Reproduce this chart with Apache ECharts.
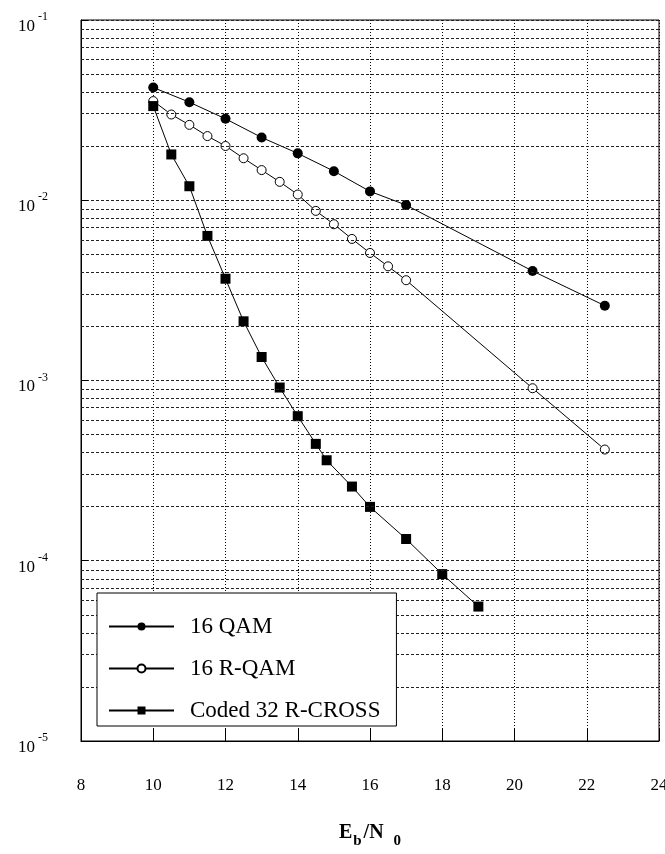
<!DOCTYPE html>
<html>
<head>
<meta charset="utf-8">
<script src="https://cdn.jsdelivr.net/npm/echarts@6/dist/echarts.min.js"></script>
<style>
html,body{margin:0;padding:0;background:#fff;overflow:hidden;}
#chart{width:665px;height:854px;}
</style>
</head>
<body>
<div id="chart"></div>
<script>
// ---- data ----
const seriesNames = ['16 QAM', '16 R-QAM', 'Coded 32 R-CROSS'];

const xQAM = [10, 11, 12, 13, 14, 15, 16, 17, 20.5, 22.5];
const yQAM = [0.0422, 0.0350, 0.0283, 0.0223, 0.0182, 0.0145, 0.0112, 0.0094, 0.00405, 0.0026];

const xRQAM = [10, 10.5, 11, 11.5, 12, 12.5, 13, 13.5, 14, 14.5, 15, 15.5, 16, 16.5, 17, 20.5, 22.5];
const yRQAM = [0.0355, 0.0299, 0.0262, 0.0227, 0.0200, 0.0171, 0.0147, 0.01265, 0.01076, 0.00873, 0.00736, 0.0061, 0.0051, 0.0043, 0.0036, 0.000906, 0.000414];

const xCross = [10, 10.5, 11, 11.5, 12, 12.5, 13, 13.5, 14, 14.5, 14.8, 15.5, 16, 17, 18, 19];
const yCross = [0.0333, 0.01795, 0.01196, 0.00634, 0.00367, 0.00213, 0.00135, 0.000914, 0.000634, 0.000445, 0.000361, 0.000258, 0.000199, 0.000132, 0.0000843, 0.0000557];

// axis ticks
const xTicks = [8, 10, 12, 14, 16, 18, 20, 22, 24];
const yDecades = [1e-5, 1e-4, 1e-3, 1e-2, 1e-1];
const minorMultipliers = [2, 3, 4, 5, 6, 7, 8, 9];

// ---- build ----
const pairs = (xs, ys) => xs.map((x, i) => [x, ys[i]]);
// minor grid lines, expressed as exponents on a hidden linear helper axis that spans the same decades
const minorLines = [];
for (let d = 0; d < yDecades.length - 1; d++) {
  minorMultipliers.forEach(m => minorLines.push({ yAxis: Math.log10(yDecades[d] * m) }));
}

const FONT = "'Liberation Serif', 'Times New Roman', serif";
const chart = echarts.init(document.getElementById('chart'), null, { renderer: 'canvas', width: 665, height: 854 });

const option = {
  animation: false,
  backgroundColor: '#ffffff',
  grid: {
    left: 81, width: 578, top: 20, height: 721,
    containLabel: false,
    outerBoundsMode: 'none',
    show: true, borderColor: '#000', borderWidth: 1, backgroundColor: 'transparent'
  },
  xAxis: {
    type: 'value',
    min: xTicks[0], max: xTicks[xTicks.length - 1], interval: 2,
    axisLine: { show: true, lineStyle: { color: '#000', width: 1 } },
    axisTick: { show: true, inside: true, length: 13, lineStyle: { color: '#000' } },
    axisLabel: { margin: 36, color: '#000', fontFamily: FONT, fontSize: 17 },
    splitLine: { show: true, lineStyle: { color: '#000', type: [1, 2], width: 1 } },
    name: '{m|E}{sb|b}{m|/N}{s0|0}',
    nameLocation: 'middle',
    nameGap: 82,
    nameTextStyle: {
      rich: {
        m: { fontFamily: FONT, fontWeight: 'bold', fontSize: 20, color: '#000', verticalAlign: 'top', lineHeight: 26 },
        sb: { fontFamily: FONT, fontWeight: 'bold', fontSize: 15, color: '#000', verticalAlign: 'bottom', lineHeight: 26, padding: [0, 2, 0, 1] },
        s0: { fontFamily: FONT, fontWeight: 'bold', fontSize: 15, color: '#000', verticalAlign: 'bottom', lineHeight: 26, padding: [0, 0, 0, 10] }
      }
    }
  },
  yAxis: [
    {
      type: 'log', logBase: 10,
      min: yDecades[0], max: yDecades[yDecades.length - 1],
      axisLine: { show: true, lineStyle: { color: '#000', width: 1 } },
      axisTick: { show: true, inside: true, length: 7, lineStyle: { color: '#000' } },
      axisLabel: {
        margin: 33,
        color: '#000',
        formatter: v => '{b|10}{s|' + Math.round(Math.log10(v)) + '}',
        rich: {
          b: { fontFamily: FONT, fontSize: 17, color: '#000', verticalAlign: 'bottom', lineHeight: 30 },
          s: { fontFamily: FONT, fontSize: 12, color: '#000', verticalAlign: 'top', lineHeight: 30, padding: [6, 0, 0, 3] }
        }
      },
      splitLine: { show: true, lineStyle: { color: '#222', type: [3, 2], width: 1 } }
    },
    {
      // hidden helper axis in exponent units (same span as the log axis), used only for minor grid lines
      type: 'value', show: false,
      min: Math.log10(yDecades[0]), max: Math.log10(yDecades[yDecades.length - 1]),
      splitLine: { show: false }, axisLabel: { show: false }, axisTick: { show: false }, axisLine: { show: false }
    }
  ],
  legend: {
    orient: 'vertical',
    left: 97, top: 593,
    backgroundColor: '#fff',
    borderColor: '#000', borderWidth: 1, borderRadius: 0,
    padding: [22, 16, 4, 11],
    itemGap: 19,
    itemWidth: 65, itemHeight: 10,
    textStyle: { fontFamily: FONT, fontSize: 23, color: '#000', padding: [0, 0, 0, 11] },
    data: seriesNames,
    z: 10
  },
  series: [
    {
      name: '_grid', type: 'line', data: [], silent: true, z: 1, yAxisIndex: 1,
      markLine: {
        silent: true, symbol: ['none', 'none'], label: { show: false },
        lineStyle: { color: '#222', type: [3, 2], width: 1 },
        data: minorLines, animation: false
      }
    },
    {
      name: seriesNames[0], type: 'line', data: pairs(xQAM, yQAM), z: 3,
      symbol: 'circle', symbolSize: 10,
      lineStyle: { color: '#000', width: 1 },
      itemStyle: { color: '#000', borderColor: '#000', borderWidth: 0 }
    },
    {
      name: seriesNames[1], type: 'line', data: pairs(xRQAM, yRQAM), z: 3,
      symbol: 'circle', symbolSize: 9,
      lineStyle: { color: '#000', width: 1 },
      itemStyle: { color: '#fff', borderColor: '#000', borderWidth: 1 }
    },
    {
      name: seriesNames[2], type: 'line', data: pairs(xCross, yCross), z: 3,
      symbol: 'rect', symbolSize: 10,
      lineStyle: { color: '#000', width: 1 },
      itemStyle: { color: '#000', borderColor: '#000', borderWidth: 0 }
    }
  ]
};
chart.setOption(option);
</script>
</body>
</html>
